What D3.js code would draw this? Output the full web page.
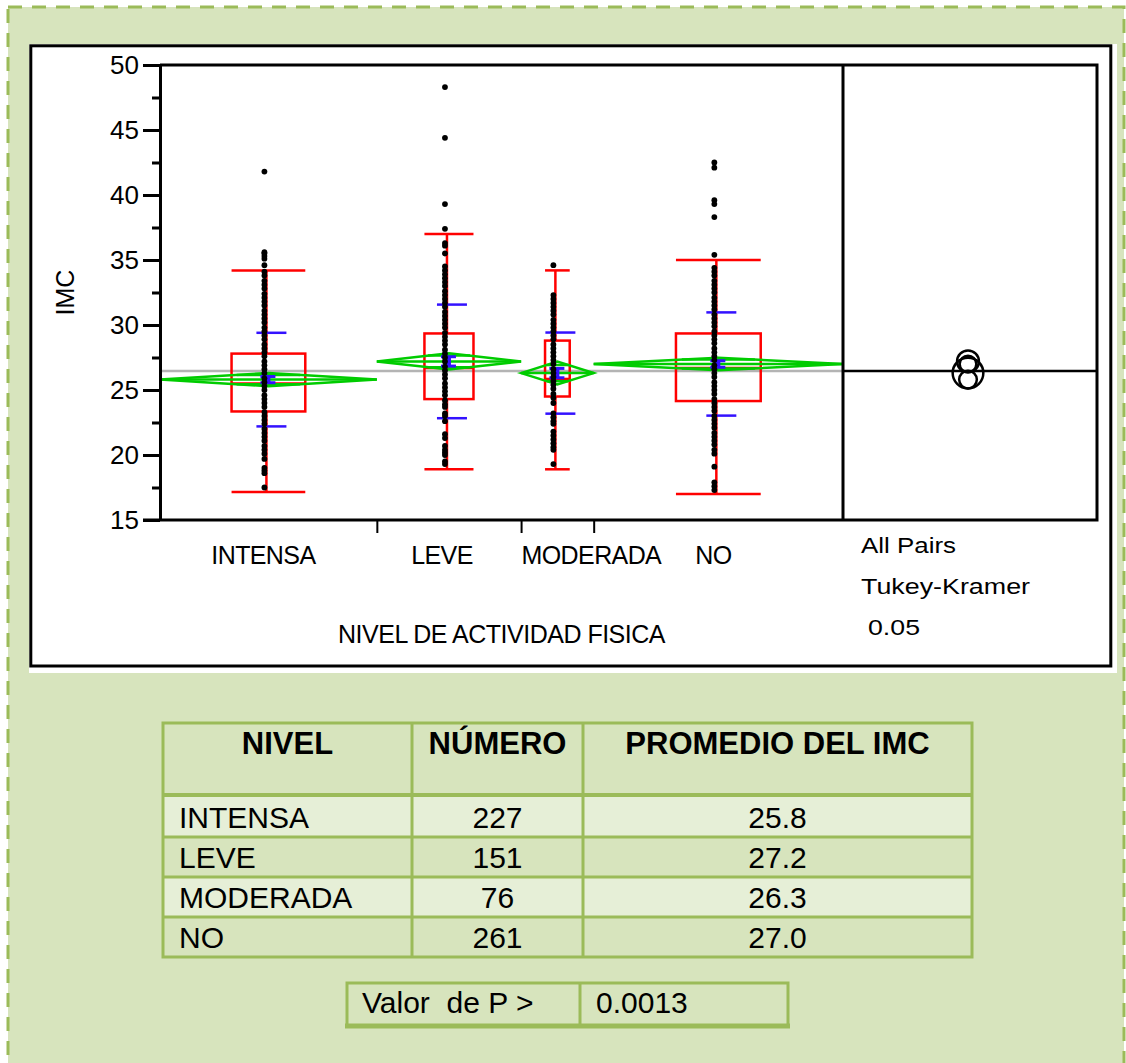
<!DOCTYPE html>
<html><head><meta charset="utf-8">
<script src="https://cdn.jsdelivr.net/npm/d3@7"></script>
<style>
body{margin:0;background:#fff}
svg{display:block}
text{font-family:"Liberation Sans",Arial,Helvetica,sans-serif;fill:#000}
</style>
</head><body>
<svg id="c" width="1126" height="1063"></svg>
<script>
// ---------------- DATA ----------------
const categories = ["INTENSA", "LEVE", "MODERADA", "NO"];
const counts = [227, 151, 76, 261];
const means = [25.8, 27.2, 26.3, 27.0];
const meanLabels = ["25.8", "27.2", "26.3", "27.0"];
const stdDevs = [3.6, 4.37, 3.12, 3.97];
const stdErrs = [0.24, 0.36, 0.36, 0.25];
const ciHalf = [0.51, 0.63, 0.88, 0.48];
const circleRadius = [0.68, 0.84, 1.18, 0.64];
const whiskerLow = [17.15, 18.9, 18.9, 17.0];
const quartile1 = [23.35, 24.3, 24.5, 24.15];
const medians = [25.5, 26.7, 25.85, 26.7];
const quartile3 = [27.8, 29.35, 28.8, 29.35];
const whiskerHigh = [34.2, 37.0, 34.2, 35.0];
const grandMean = 26.47;
const yTicks = [15, 20, 25, 30, 35, 40, 45, 50];
const yMinorTicks = [17.5, 22.5, 27.5, 32.5, 37.5, 42.5, 47.5];
const pointsIntensa = [41.8, 35.6, 35.5, 35.3, 35.1, 34.6, 34.1, 33.8, 33.4, 33.1, 32.8, 32.4, 32.1, 31.8, 31.5, 31.1, 30.8, 30.5, 30.2, 29.8, 29.5, 29.2, 28.9, 28.5, 28.2, 27.9, 27.6, 27.2, 26.9, 26.6, 26.3, 25.9, 25.6, 25.3, 25.0, 24.6, 24.3, 24.0, 23.7, 23.3, 23.0, 22.7, 22.4, 22.0, 21.7, 21.4, 21.1, 20.7, 20.4, 20.1, 19.7, 19.0, 18.8, 18.6, 17.5];
const pointsLeve = [48.3, 44.4, 39.3, 37.4, 36.3, 36.1, 35.5, 34.5, 34.2, 33.9, 33.6, 33.3, 33.0, 32.6, 32.3, 32.0, 31.7, 31.4, 31.0, 30.7, 30.4, 30.1, 29.8, 29.4, 29.1, 28.8, 28.5, 28.1, 27.8, 27.5, 27.2, 26.8, 26.5, 26.2, 25.9, 25.5, 25.2, 24.9, 24.6, 24.2, 23.9, 23.7, 23.2, 23.0, 22.6, 21.6, 21.3, 20.7, 20.4, 20.2, 20.0, 19.5, 19.3];
const pointsModerada = [34.6, 32.3, 32.0, 31.7, 31.4, 31.1, 30.8, 30.4, 30.1, 29.8, 29.5, 29.2, 28.9, 28.5, 28.2, 27.9, 27.6, 27.3, 27.0, 26.6, 26.3, 26.0, 25.7, 25.4, 25.1, 24.7, 24.4, 24.0, 23.2, 22.9, 22.6, 22.4, 21.8, 21.5, 21.2, 20.9, 20.6, 20.4, 19.3];
const pointsNo = [42.5, 42.1, 39.6, 39.3, 38.3, 35.4, 34.4, 34.1, 33.8, 33.4, 33.1, 32.8, 32.5, 32.1, 31.8, 31.5, 31.2, 30.8, 30.5, 30.2, 29.9, 29.5, 29.2, 28.9, 28.6, 28.2, 27.9, 27.6, 27.3, 26.9, 26.6, 26.3, 26.0, 25.6, 25.3, 25.0, 24.7, 24.3, 24.0, 23.7, 23.4, 23.0, 22.7, 22.4, 22.1, 21.7, 21.4, 21.1, 20.8, 20.4, 20.1, 19.1, 17.9, 17.6, 17.3];
const yAxisTitle = "IMC";
const xAxisTitle = "NIVEL DE ACTIVIDAD FISICA";
const comparisonLabels = ["All Pairs", "Tukey-Kramer", "0.05"];
const tableHeaders = ["NIVEL", "NÚMERO", "PROMEDIO DEL IMC"];
const pLabel = "Valor  de P >";
const pValue = "0.0013";

// ---------------- DRAW ----------------
const svg = d3.select("#c");
const GREEN_BG = "#d7e4bd", GREEN_LINE = "#9bbb59", GREEN_LIGHT = "#e6efd7";

// outer dashed panel
svg.append("rect").attr("x", 8).attr("y", 7).attr("width", 1116).attr("height", 1100)
  .attr("fill", GREEN_BG).attr("stroke", GREEN_LINE).attr("stroke-width", 3)
  .attr("stroke-dasharray", "14,10");

// chart panel
svg.append("rect").attr("x", 29).attr("y", 44).attr("width", 1088).attr("height", 629).attr("fill", "#fff");
svg.append("rect").attr("x", 30.8).attr("y", 45.8).attr("width", 1080).attr("height", 620.2)
  .attr("fill", "none").attr("stroke", "#000").attr("stroke-width", 3);

const plotL = 160, plotR = 843, plotT = 65, plotB = 520, compR = 1097;
const total = d3.sum(counts);
const cum = [0]; counts.forEach((c, i) => cum.push(cum[i] + c));
const xN = d3.scaleLinear().domain([0, total]).range([plotL, plotR]);
const y = d3.scaleLinear().domain([15, 50]).range([plotB, plotT]);
const pxPerUnit = y(0) - y(1);

const groups = categories.map((c, i) => {
  const x0 = xN(cum[i]), x1 = xN(cum[i + 1]);
  return {i, name: c, x0, x1, cx: (x0 + x1) / 2, w: x1 - x0};
});

const plot = svg.append("g");
// grand mean line
plot.append("line").attr("x1", plotL).attr("x2", plotR)
  .attr("y1", y(grandMean)).attr("y2", y(grandMean))
  .attr("stroke", "#b4b4b4").attr("stroke-width", 2.5);

// quantile boxes
const RED = "#ff0000";
groups.forEach(g => {
  const bw = g.w * 0.34, bx = g.cx - bw / 2;
  const gg = plot.append("g").attr("stroke", RED).attr("stroke-width", 2.5).attr("fill", "none");
  gg.append("rect").attr("x", bx).attr("y", y(quartile3[g.i])).attr("width", bw)
    .attr("height", y(quartile1[g.i]) - y(quartile3[g.i]));
  gg.append("line").attr("x1", bx).attr("x2", bx + bw).attr("y1", y(medians[g.i])).attr("y2", y(medians[g.i]));
  gg.append("line").attr("x1", g.cx - 2).attr("x2", g.cx - 2).attr("y1", y(quartile3[g.i])).attr("y2", y(whiskerHigh[g.i]));
  gg.append("line").attr("x1", g.cx - 2).attr("x2", g.cx - 2).attr("y1", y(quartile1[g.i])).attr("y2", y(whiskerLow[g.i]));
  gg.append("line").attr("x1", bx).attr("x2", bx + bw).attr("y1", y(whiskerHigh[g.i])).attr("y2", y(whiskerHigh[g.i]));
  gg.append("line").attr("x1", bx).attr("x2", bx + bw).attr("y1", y(whiskerLow[g.i])).attr("y2", y(whiskerLow[g.i]));
});

// means diamonds
const GREEN = "#00cc00";
groups.forEach(g => {
  const ym = y(means[g.i]), h = ciHalf[g.i] * pxPerUnit;
  const gg = plot.append("g").attr("stroke", GREEN).attr("stroke-width", 2.5).attr("fill", "none");
  gg.append("path").attr("d", `M${g.x0},${ym}L${g.cx},${ym - h}L${g.x1},${ym}L${g.cx},${ym + h}Z`);
  gg.append("line").attr("x1", g.x0).attr("x2", g.x1).attr("y1", ym).attr("y2", ym);
  const hw = (1 - Math.SQRT1_2) * g.w / 2, ho = h * Math.SQRT1_2;
  [-1, 1].forEach(s => gg.append("line").attr("x1", g.cx - hw).attr("x2", g.cx + hw)
    .attr("y1", ym + s * ho).attr("y2", ym + s * ho));
});

// std dev lines and mean error bars
const BLUE = "#3311ff";
groups.forEach(g => {
  const gg = plot.append("g").attr("stroke", BLUE).attr("fill", "none");
  [-1, 1].forEach(s => {
    const v = means[g.i] + s * stdDevs[g.i];
    gg.append("line").attr("x1", g.cx + 3 - 15).attr("x2", g.cx + 3 + 15)
      .attr("y1", y(v)).attr("y2", y(v)).attr("stroke-width", 2.5);
    const e = means[g.i] + s * stdErrs[g.i];
    gg.append("line").attr("x1", g.cx - 8).attr("x2", g.cx + 7)
      .attr("y1", y(e)).attr("y2", y(e)).attr("stroke-width", 3);
  });
  gg.append("line").attr("x1", g.cx - 1).attr("x2", g.cx - 1)
    .attr("y1", y(means[g.i] + stdErrs[g.i])).attr("y2", y(means[g.i] - stdErrs[g.i])).attr("stroke-width", 6);
});

// points
const allPoints = [pointsIntensa, pointsLeve, pointsModerada, pointsNo];
groups.forEach(g => {
  plot.append("g").selectAll("circle").data(allPoints[g.i]).join("circle")
    .attr("cx", g.cx - 4).attr("cy", d => y(d)).attr("r", 2.9).attr("fill", "#000");
});

// comparison circles panel
const compCx = (plotR + compR) / 2 - 2;
svg.append("line").attr("x1", plotR).attr("x2", compR).attr("y1", y(grandMean)).attr("y2", y(grandMean))
  .attr("stroke", "#000").attr("stroke-width", 2.5);
svg.append("g").selectAll("circle").data(categories).join("circle")
  .attr("cx", compCx).attr("cy", (d, i) => y(means[i]))
  .attr("r", (d, i) => circleRadius[i] * pxPerUnit)
  .attr("fill", "none").attr("stroke", "#000").attr("stroke-width", 2.5);

// frame
const frame = svg.append("g").attr("stroke", "#000").attr("stroke-width", 3).attr("fill", "none");
frame.append("path").attr("d", `M${plotL},${plotT}H${compR}V${plotB}H${plotL - 17}`);
frame.append("line").attr("x1", plotR).attr("x2", plotR).attr("y1", plotT).attr("y2", plotB);

// y axis
const yAxis = svg.append("g").attr("transform", `translate(${plotL},0)`)
  .call(d3.axisLeft(y).tickValues(yTicks).tickSize(17).tickSizeOuter(0).tickPadding(4));
yAxis.select(".domain").attr("stroke-width", 3);
yAxis.selectAll(".tick line").attr("stroke-width", 3);
yAxis.selectAll(".tick text").attr("font-size", 26).attr("font-family", "Liberation Sans, Arial, sans-serif");
const yMinor = svg.append("g").attr("transform", `translate(${plotL},0)`)
  .call(d3.axisLeft(y).tickValues(yMinorTicks).tickSize(8).tickFormat(""));
yMinor.select(".domain").remove();
yMinor.selectAll(".tick line").attr("stroke-width", 3);

// x axis boundary ticks
const xAxis = svg.append("g").attr("transform", `translate(0,${plotB})`)
  .call(d3.axisBottom(xN).tickValues(cum.slice(1, -1)).tickSize(13).tickFormat(""));
xAxis.select(".domain").remove();
xAxis.selectAll(".tick line").attr("stroke-width", 2);

// category labels (shifted to avoid overlap, as in the original)
const labelShift = [-5, -7, 34, -5];
svg.append("g").selectAll("text").data(groups).join("text")
  .attr("x", g => g.cx + labelShift[g.i]).attr("y", 564)
  .attr("text-anchor", "middle").attr("font-size", 25).attr("letter-spacing", -0.6)
  .text(g => g.name);

svg.append("text").attr("x", (plotL + plotR) / 2).attr("y", 643).attr("text-anchor", "middle")
  .attr("font-size", 25).attr("letter-spacing", -0.5).text(xAxisTitle);
svg.append("text").attr("transform", `translate(74,${(plotT + plotB) / 2}) rotate(-90)`)
  .attr("text-anchor", "middle").attr("font-size", 25).text(yAxisTitle);

// comparison labels
const compPos = [[861, 553, 95], [861, 594, 169], [868, 635, 52]];
svg.append("g").selectAll("text").data(comparisonLabels).join("text")
  .attr("x", (d, i) => compPos[i][0]).attr("y", (d, i) => compPos[i][1])
  .attr("font-size", 22).attr("textLength", (d, i) => compPos[i][2])
  .attr("lengthAdjust", "spacingAndGlyphs").text(d => d);

// ---------------- TABLE ----------------
const colX = [163, 412, 583, 972];
const headTop = 723, headBot = 796, rowH = 40;
const rowsTop = 797;
const tbl = svg.append("g");
tbl.selectAll("rect.row").data(categories).join("rect")
  .attr("x", colX[0]).attr("width", colX[3] - colX[0])
  .attr("y", (d, i) => rowsTop + i * rowH).attr("height", rowH)
  .attr("fill", (d, i) => i % 2 === 0 ? GREEN_LIGHT : GREEN_BG);
const tl = tbl.append("g").attr("stroke", GREEN_LINE).attr("stroke-width", 3).attr("fill", "none");
tl.append("rect").attr("x", colX[0]).attr("y", headTop).attr("width", colX[3] - colX[0])
  .attr("height", rowsTop + 4 * rowH - headTop);
colX.slice(1, 3).forEach(x => tl.append("line").attr("x1", x).attr("x2", x).attr("y1", headTop).attr("y2", rowsTop + 4 * rowH));
tl.append("line").attr("x1", colX[0]).attr("x2", colX[3]).attr("y1", headBot - 1).attr("y2", headBot - 1).attr("stroke-width", 4);
[1, 2, 3].forEach(k => tl.append("line").attr("x1", colX[0]).attr("x2", colX[3])
  .attr("y1", rowsTop + k * rowH).attr("y2", rowsTop + k * rowH));

tbl.selectAll("text.h").data(tableHeaders).join("text")
  .attr("x", (d, i) => (colX[i] + colX[i + 1]) / 2).attr("y", 754)
  .attr("text-anchor", "middle").attr("font-size", 31).attr("font-weight", "bold").text(d => d);
categories.forEach((c, i) => {
  const by = rowsTop + i * rowH + 31;
  tbl.append("text").attr("x", colX[0] + 16).attr("y", by).attr("font-size", 30).text(c);
  tbl.append("text").attr("x", (colX[1] + colX[2]) / 2).attr("y", by).attr("text-anchor", "middle")
    .attr("font-size", 30).text(counts[i]);
  tbl.append("text").attr("x", (colX[2] + colX[3]) / 2).attr("y", by).attr("text-anchor", "middle")
    .attr("font-size", 30).text(meanLabels[i]);
});

// P value box
const pb = svg.append("g");
pb.append("rect").attr("x", 347).attr("y", 983).attr("width", 441).attr("height", 43)
  .attr("fill", GREEN_BG).attr("stroke", GREEN_LINE).attr("stroke-width", 3);
pb.append("line").attr("x1", 580).attr("x2", 580).attr("y1", 983).attr("y2", 1026)
  .attr("stroke", GREEN_LINE).attr("stroke-width", 3);
pb.append("line").attr("x1", 345).attr("x2", 790).attr("y1", 1026).attr("y2", 1026)
  .attr("stroke", GREEN_LINE).attr("stroke-width", 5);
pb.append("text").attr("x", 362).attr("y", 1013).attr("font-size", 30)
  .style("white-space", "pre").text(pLabel);
pb.append("text").attr("x", 596).attr("y", 1013).attr("font-size", 30).text(pValue);
</script>
</body></html>
